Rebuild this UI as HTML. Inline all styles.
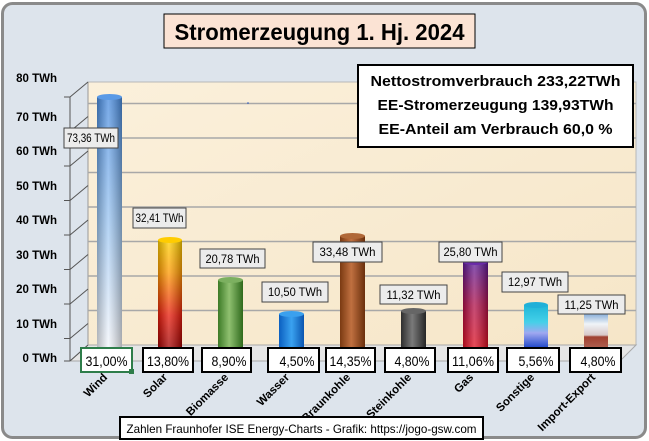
<!DOCTYPE html>
<html><head><meta charset="utf-8"><style>
html,body{margin:0;padding:0;background:#fff;}
svg{display:block;font-family:"Liberation Sans",sans-serif;}
.t{font-family:"Liberation Sans",sans-serif;font-weight:bold;}
</style></head><body>
<svg width="649" height="441" viewBox="0 0 649 441" xmlns="http://www.w3.org/2000/svg">
<defs>
<linearGradient id="wall" x1="0" y1="0" x2="1" y2="1"><stop offset="0" stop-color="#fbf0db"/><stop offset="1" stop-color="#f6e6c8"/></linearGradient>
<linearGradient id="gWv" x1="0" y1="0" x2="0" y2="1"><stop offset="0" stop-color="#4a8de0"/><stop offset=".5" stop-color="#9cc6f2"/><stop offset="1" stop-color="#f4f6fb"/></linearGradient>
<linearGradient id="gS" x1="0" y1="0" x2="0" y2="1"><stop offset="0" stop-color="#ffd200"/><stop offset=".3" stop-color="#ff9a00"/><stop offset=".7" stop-color="#e81a0a"/><stop offset="1" stop-color="#a00000"/></linearGradient>
<linearGradient id="gB" x1="0" x2="1"><stop offset="0" stop-color="#3c7a26"/><stop offset=".45" stop-color="#8fc070"/><stop offset="1" stop-color="#2f6a1c"/></linearGradient>
<linearGradient id="gWa" x1="0" x2="1"><stop offset="0" stop-color="#0b5fc0"/><stop offset=".5" stop-color="#3aa2f0"/><stop offset="1" stop-color="#0a55b0"/></linearGradient>
<linearGradient id="gBr" x1="0" x2="1"><stop offset="0" stop-color="#7a3a12"/><stop offset=".45" stop-color="#c07040"/><stop offset="1" stop-color="#6a2f0c"/></linearGradient>
<linearGradient id="gSt" x1="0" x2="1"><stop offset="0" stop-color="#2e2e2e"/><stop offset=".45" stop-color="#7a7a7a"/><stop offset="1" stop-color="#262626"/></linearGradient>
<linearGradient id="gG" x1="0" y1="0" x2="0" y2="1"><stop offset="0" stop-color="#5a1a9a"/><stop offset=".5" stop-color="#b0104a"/><stop offset="1" stop-color="#e01020"/></linearGradient>
<linearGradient id="gSo" x1="0" y1="0" x2="0" y2="1"><stop offset="0" stop-color="#1fb6d8"/><stop offset=".4" stop-color="#45d0e8"/><stop offset=".65" stop-color="#a0a8f0"/><stop offset="1" stop-color="#1e46c8"/></linearGradient>
<linearGradient id="gI" x1="0" y1="0" x2="0" y2="1"><stop offset="0" stop-color="#6a9ad0"/><stop offset=".35" stop-color="#f0f4f8"/><stop offset=".65" stop-color="#d8c8c8"/><stop offset=".7" stop-color="#a04030"/><stop offset="1" stop-color="#b06050"/></linearGradient>
<linearGradient id="shade" x1="0" x2="1"><stop offset="0" stop-color="#000" stop-opacity=".25"/><stop offset=".45" stop-color="#fff" stop-opacity=".25"/><stop offset="1" stop-color="#000" stop-opacity=".3"/></linearGradient>
</defs>
<rect x="0" y="0" width="649" height="441" fill="#fff"/>
<rect x="2.5" y="3.5" width="643" height="434" rx="10" fill="#dde4ec" stroke="#8a8a8a" stroke-width="3"/>
<rect x="164" y="14" width="311" height="34" fill="#fbe3d4" stroke="#000" stroke-width="1"/>
<text x="319.5" y="40" text-anchor="middle" class="t" font-size="23" fill="#000" textLength="290" lengthAdjust="spacingAndGlyphs">Stromerzeugung 1. Hj. 2024</text>
<polygon points="88,82 636,82 636,345 88,345" fill="url(#wall)" stroke="#b8b8b8"/>
<polygon points="88,345 636,345 620,361 70,361" fill="#e6e6e6" stroke="#a8a8a8"/>
<line x1="88" y1="82" x2="88" y2="345" stroke="#999"/>
<g stroke="#a8a8a8" stroke-width="1.5">
<line x1="88" y1="310.5" x2="636" y2="310.5"/><line x1="88" y1="276" x2="636" y2="276"/><line x1="88" y1="241.5" x2="636" y2="241.5"/><line x1="88" y1="207" x2="636" y2="207"/><line x1="88" y1="172.5" x2="636" y2="172.5"/><line x1="88" y1="138" x2="636" y2="138"/><line x1="88" y1="103.5" x2="636" y2="103.5"/>
</g>
<g stroke="#555" stroke-width="1">
<line x1="70" y1="97" x2="70" y2="361"/>
<line x1="70" y1="97" x2="88" y2="82"/>
<line x1="70" y1="131.5" x2="88" y2="116.5"/><line x1="70" y1="166" x2="88" y2="151"/><line x1="70" y1="200.5" x2="88" y2="185.5"/><line x1="70" y1="235" x2="88" y2="220"/><line x1="70" y1="269.5" x2="88" y2="254.5"/><line x1="70" y1="304" x2="88" y2="289"/><line x1="70" y1="338.5" x2="88" y2="323.5"/><line x1="70" y1="361" x2="88" y2="345"/>
<line x1="64" y1="97" x2="70" y2="97"/><line x1="64" y1="131.5" x2="70" y2="131.5"/><line x1="64" y1="166" x2="70" y2="166"/><line x1="64" y1="200.5" x2="70" y2="200.5"/><line x1="64" y1="235" x2="70" y2="235"/><line x1="64" y1="269.5" x2="70" y2="269.5"/><line x1="64" y1="304" x2="70" y2="304"/><line x1="64" y1="338.5" x2="70" y2="338.5"/><line x1="64" y1="361" x2="70" y2="361"/>
</g>
<g class="t" font-size="11.5" text-anchor="end" fill="#000">
<text x="57" y="82">80 TWh</text><text x="57" y="121">70 TWh</text><text x="57" y="155">60 TWh</text><text x="57" y="190">50 TWh</text><text x="57" y="224">40 TWh</text><text x="57" y="259">30 TWh</text><text x="57" y="293">20 TWh</text><text x="57" y="328">10 TWh</text><text x="57" y="362">0 TWh</text>
</g>
<circle cx="248" cy="103" r="0.8" fill="#2050c0"/>
<g>
<rect x="97" y="97" width="25" height="251" fill="url(#gWv)"/><rect x="97" y="97" width="25" height="251" fill="url(#shade)"/><ellipse cx="109.5" cy="97" rx="12.5" ry="3" fill="#5a9ae6"/>
<rect x="158" y="240" width="24" height="108" fill="url(#gS)"/><rect x="158" y="240" width="24" height="108" fill="url(#shade)"/><ellipse cx="170" cy="240" rx="12" ry="3" fill="#ffcc00"/>
<rect x="218" y="280" width="25" height="68" fill="url(#gB)"/><ellipse cx="230.5" cy="280" rx="12.5" ry="3" fill="#7cb060"/>
<rect x="279" y="314" width="25" height="34" fill="url(#gWa)"/><ellipse cx="291.5" cy="314" rx="12.5" ry="3" fill="#3aa0ee"/>
<rect x="340" y="236" width="25" height="112" fill="url(#gBr)"/><ellipse cx="352.5" cy="236" rx="12.5" ry="3" fill="#b06838"/>
<rect x="401" y="311" width="25" height="37" fill="url(#gSt)"/><ellipse cx="413.5" cy="311" rx="12.5" ry="3" fill="#666"/>
<rect x="463" y="262" width="25" height="86" fill="url(#gG)"/><rect x="463" y="262" width="25" height="86" fill="url(#shade)"/><ellipse cx="475.5" cy="262" rx="12.5" ry="3" fill="#6a2aa8"/>
<rect x="524" y="305" width="24" height="43" fill="url(#gSo)"/><ellipse cx="536" cy="305" rx="12" ry="3" fill="#20b0d8"/>
<rect x="584" y="311" width="24" height="37" fill="url(#gI)"/><ellipse cx="596" cy="311" rx="12" ry="3" fill="#5a8ac8"/>
</g>
<g font-size="11.5" text-anchor="middle" fill="#000" font-family="Liberation Sans, sans-serif">
<rect x="64" y="128" width="54" height="20" fill="#ececec" stroke="#444"/><text x="91" y="142" textLength="48" lengthAdjust="spacingAndGlyphs">73,36 TWh</text>
<rect x="133" y="208" width="53" height="20" fill="#ececec" stroke="#444"/><text x="159.5" y="222" textLength="48" lengthAdjust="spacingAndGlyphs">32,41 TWh</text>
<rect x="200" y="249" width="65" height="19" fill="#ececec" stroke="#444"/><text x="232.5" y="263" textLength="54" lengthAdjust="spacingAndGlyphs">20,78 TWh</text>
<rect x="262" y="282" width="66" height="20" fill="#ececec" stroke="#444"/><text x="295" y="296" textLength="54" lengthAdjust="spacingAndGlyphs">10,50 TWh</text>
<rect x="313" y="242" width="69" height="20" fill="#ececec" stroke="#444"/><text x="347.5" y="256" textLength="56" lengthAdjust="spacingAndGlyphs">33,48 TWh</text>
<rect x="380" y="285" width="67" height="19" fill="#ececec" stroke="#444"/><text x="413.5" y="299" textLength="54" lengthAdjust="spacingAndGlyphs">11,32 TWh</text>
<rect x="439" y="242" width="63" height="20" fill="#ececec" stroke="#444"/><text x="470.5" y="256" textLength="54" lengthAdjust="spacingAndGlyphs">25,80 TWh</text>
<rect x="502" y="272" width="66" height="20" fill="#ececec" stroke="#444"/><text x="535" y="286" textLength="54" lengthAdjust="spacingAndGlyphs">12,97 TWh</text>
<rect x="558" y="295" width="67" height="19" fill="#ececec" stroke="#444"/><text x="591.5" y="309" textLength="54" lengthAdjust="spacingAndGlyphs">11,25 TWh</text>
</g>
<g font-size="14" text-anchor="middle" fill="#000" font-family="Liberation Sans, sans-serif">
<rect x="81" y="348" width="51" height="24" fill="#fff" stroke="#2e7d4a" stroke-width="2"/><rect x="129" y="369" width="5" height="5" fill="#2e7d4a"/><text x="106.5" y="366" textLength="42" lengthAdjust="spacingAndGlyphs">31,00%</text>
<rect x="143" y="348" width="50" height="24" fill="#fff" stroke="#000" stroke-width="2"/><text x="168" y="366" textLength="42" lengthAdjust="spacingAndGlyphs">13,80%</text>
<rect x="202" y="348" width="49" height="24" fill="#fff" stroke="#000" stroke-width="2"/><text x="229" y="366" textLength="35" lengthAdjust="spacingAndGlyphs">8,90%</text>
<rect x="268" y="348" width="51" height="24" fill="#fff" stroke="#000" stroke-width="2"/><text x="297" y="366" textLength="35" lengthAdjust="spacingAndGlyphs">4,50%</text>
<rect x="326" y="348" width="49" height="24" fill="#fff" stroke="#000" stroke-width="2"/><text x="350.5" y="366" textLength="42" lengthAdjust="spacingAndGlyphs">14,35%</text>
<rect x="385" y="348" width="50" height="24" fill="#fff" stroke="#000" stroke-width="2"/><text x="412" y="366" textLength="35" lengthAdjust="spacingAndGlyphs">4,80%</text>
<rect x="448" y="348" width="50" height="24" fill="#fff" stroke="#000" stroke-width="2"/><text x="473" y="366" textLength="42" lengthAdjust="spacingAndGlyphs">11,06%</text>
<rect x="507" y="348" width="52" height="24" fill="#fff" stroke="#000" stroke-width="2"/><text x="536" y="366" textLength="35" lengthAdjust="spacingAndGlyphs">5,56%</text>
<rect x="570" y="348" width="51" height="24" fill="#fff" stroke="#000" stroke-width="2"/><text x="598" y="366" textLength="35" lengthAdjust="spacingAndGlyphs">4,80%</text>
</g>
<g class="t" font-size="11.5" text-anchor="end" fill="#000">
<text transform="translate(108,378) rotate(-45)">Wind</text>
<text transform="translate(168,378) rotate(-45)">Solar</text>
<text transform="translate(229,378) rotate(-45)">Biomasse</text>
<text transform="translate(290,378) rotate(-45)">Wasser</text>
<text transform="translate(351,378) rotate(-45)">Braunkohle</text>
<text transform="translate(412,378) rotate(-45)">Steinkohle</text>
<text transform="translate(474,378) rotate(-45)">Gas</text>
<text transform="translate(535,378) rotate(-45)">Sonstige</text>
<text transform="translate(596,378) rotate(-45)">Import-Export</text>
</g>
<rect x="120" y="417" width="363" height="22" fill="#fff" stroke="#000" stroke-width="2"/>
<text x="301.5" y="433" text-anchor="middle" font-size="12" font-family="Liberation Sans, sans-serif" textLength="350" lengthAdjust="spacingAndGlyphs">Zahlen Fraunhofer ISE  Energy-Charts - Grafik: https://jogo-gsw.com</text>
<rect x="358" y="65" width="275" height="82" fill="#fff" stroke="#000" stroke-width="2"/>
<g class="t" font-size="15" text-anchor="middle" fill="#000">
<text x="495.5" y="86" textLength="250" lengthAdjust="spacingAndGlyphs">Nettostromverbrauch 233,22TWh</text>
<text x="495.5" y="110" textLength="236" lengthAdjust="spacingAndGlyphs">EE-Stromerzeugung 139,93TWh</text>
<text x="495.5" y="134" textLength="234" lengthAdjust="spacingAndGlyphs">EE-Anteil am Verbrauch 60,0 %</text>
</g>
</svg>
</body></html>
